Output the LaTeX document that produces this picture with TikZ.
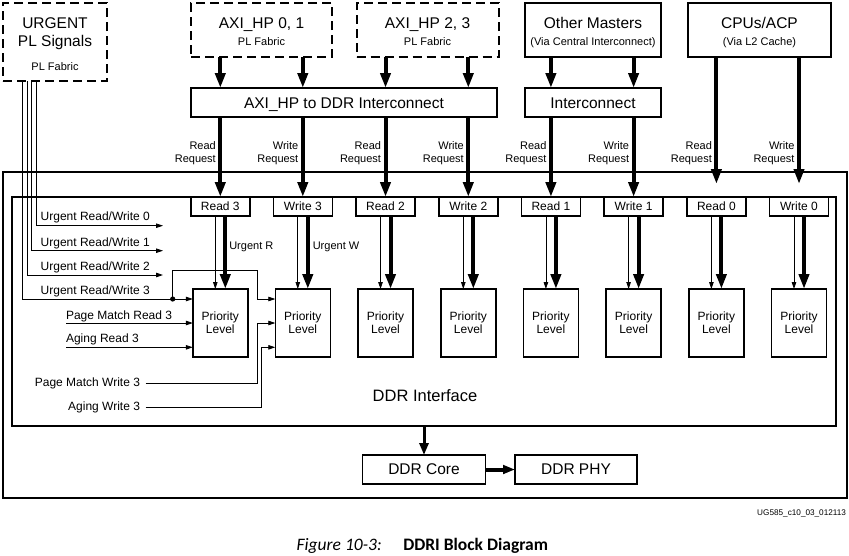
\documentclass[tikz,border=0pt]{standalone}
\usepackage{fontspec}
\setmainfont{Liberation Sans}
\newfontfamily\capfont{Carlito}
\usetikzlibrary{arrows.meta,calc}
\begin{document}
\begin{tikzpicture}[x=1pt,y=-1pt,
  fbox/.style={draw, line width=1.6pt, inner sep=0pt, outer sep=0pt, anchor=north west},
  dbox/.style={fbox, dash pattern=on 9pt off 5pt, line width=2pt},
  txt/.style={inner sep=0pt, outer sep=0pt, anchor=base},
  fbig/.style={font=\fontsize{15.5}{18}\selectfont},
  fsub/.style={font=\fontsize{11}{13}\selectfont},
  fmid/.style={font=\fontsize{12}{13.3}\selectfont},
  thk/.style={line width=4pt, -{Triangle[length=15pt,width=10pt]}},
  thn/.style={line width=0.8pt, -{Triangle[length=7pt,width=4.5pt]}},
]
\useasboundingbox (0,0) rectangle (849,555);

% frames
\node[fbox, line width=2pt, minimum width=843.5pt, minimum height=326pt] (outerbox) at (3,172) {};
\node[fbox, minimum width=824pt, minimum height=229pt] (ddri) at (12,197) {};

% sources
\node[dbox, minimum width=104pt, minimum height=78pt] (urg) at (3,3) {};
\node[dbox, minimum width=141pt, minimum height=54pt] (axia) at (191,3) {};
\node[dbox, minimum width=142pt, minimum height=54pt] (axib) at (356.5,3) {};
\node[fbox, minimum width=136pt, minimum height=54pt] (oth) at (525,3) {};
\node[fbox, minimum width=143pt, minimum height=54pt] (cpu) at (688,3) {};

\node[txt, fbig] (urgt1) at (55,28.3) {URGENT};
\node[txt, fbig] (urgt2) at (55,46.7) {PL Signals};
\node[txt, fsub] (urgt3) at (55,70.7) {PL Fabric};
\node[txt, fbig] (axiat1) at ($(axia.north)+(0,25.3)$) {AXI\_HP 0, 1};
\node[txt, fsub] (axiat2) at ($(axia.north)+(0,42.7)$) {PL Fabric};
\node[txt, fbig] (axibt1) at ($(axib.north)+(0,25.3)$) {AXI\_HP 2, 3};
\node[txt, fsub] (axibt2) at ($(axib.north)+(0,42.7)$) {PL Fabric};
\node[txt, fbig] (otht1) at ($(oth.north)+(0,25.3)$) {Other Masters};
\node[txt, fsub] (otht2) at ($(oth.north)+(0,42.7)$) {(Via Central Interconnect)};
\node[txt, fbig] (cput1) at ($(cpu.north)+(0,25.3)$) {CPUs/ACP};
\node[txt, fsub] (cput2) at ($(cpu.north)+(0,42.7)$) {(Via L2 Cache)};

% interconnects
\node[fbox, minimum width=306pt, minimum height=29pt] (ica) at (191,88) {};
\node[fbox, minimum width=136pt, minimum height=29pt] (icb) at (525,88) {};
\node[txt, fbig] (icat) at ($(ica.north)+(0,20.3)$) {AXI\_HP to DDR Interconnect};
\node[txt, fbig] (icbt) at ($(icb.north)+(0,20.3)$) {Interconnect};

% read / write ports and priority blocks
\foreach \i/\c/\t/\k in {0/220.3/Read 3/Read, 1/302.8/Write 3/Write, 2/385.5/Read 2/Read, 3/468.3/Write 2/Write,
                         4/550.9/Read 1/Read, 5/633.6/Write 1/Write, 6/716.4/Read 0/Read, 7/799/Write 0/Write} {
  \node[fbox, anchor=north, line width=1.4pt, minimum width=59pt, minimum height=19pt, fmid] (q\i) at (\c,197) {\t};
  \node[fbox, anchor=north, minimum width=55pt, minimum height=68pt, align=center, fmid] (p\i) at (\c,289) {Priority\\Level};
  \node[txt, anchor=base east, fsub] (ra\i) at (\c-4.5,149.3) {\k};
  \node[txt, anchor=base east, fsub] (rb\i) at (\c-4.5,162.5) {Request};
  \draw[thn] ([xshift=-5pt]q\i.south) -- ([xshift=-5pt]p\i.north);
  \draw[thk] ([xshift=5pt]q\i.south) -- ([xshift=5pt]p\i.north);
}

% request arrows
\foreach \i in {0,1} \draw[thk] (axia.south -| q\i) -- (ica.north -| q\i);
\foreach \i in {2,3} \draw[thk] (axib.south -| q\i) -- (ica.north -| q\i);
\foreach \i in {0,1,2,3} \draw[thk] (ica.south -| q\i) -- (q\i.north);
\foreach \i in {4,5} {
  \draw[thk] (oth.south -| q\i) -- (icb.north -| q\i);
  \draw[thk] (icb.south -| q\i) -- (q\i.north);
}
\foreach \i in {6,7} {
  \coordinate (ce\i) at ([yshift=13pt]q\i.north);
  \draw[thk] (cpu.south -| q\i) -- (ce\i);
}

\node[txt, anchor=base west, fsub] (urr) at ($(q0.south)+(9,33)$) {Urgent R};
\node[txt, anchor=base west, fsub] (urw) at ($(q1.south)+(10,33)$) {Urgent W};

% urgent signals
\coordinate (e0) at (163,225.7);
\coordinate (e1) at (163,250.7);
\coordinate (e2) at (163,275);
\draw[thn] ([xshift=-19pt]urg.south) |- (e0);
\draw[thn] ([xshift=-23.3pt]urg.south) |- (e1);
\draw[thn] ([xshift=-28pt]urg.south) |- (e2);
\draw[thn] ([xshift=-32.3pt]urg.south) |- ([yshift=-10pt]p0.north west);
\coordinate (dt) at (172.7,299);
\coordinate (dk) at (257.3,270);
\fill (dt) circle (2.6pt);
\draw[thn] (dt) |- (dk) |- ([yshift=-10pt]p1.north west);

\node[txt, anchor=base west, fmid] (u0) at (40.7,220.7) {Urgent Read/Write 0};
\node[txt, anchor=base west, fmid] (u1) at (40.7,246) {Urgent Read/Write 1};
\node[txt, anchor=base west, fmid] (u2) at (40.7,270) {Urgent Read/Write 2};
\node[txt, anchor=base west, fmid] (u3) at (40.7,294) {Urgent Read/Write 3};

% page match / aging
\node[txt, anchor=base west, fmid] (pmr) at (66,319.3) {Page Match Read 3};
\node[txt, anchor=base west, fmid] (agr) at (66,342.3) {Aging Read 3};
\coordinate (a3) at ([yshift=-58.3pt]p0.north west);
\draw[thn] (pmr.west |- p0.west) -- (p0.west);
\draw[thn] (agr.west |- a3) -- (a3);

\node[txt, anchor=base east, fmid] (pmw) at (140,386) {Page Match Write 3};
\node[txt, anchor=base east, fmid] (agw) at (140,410.3) {Aging Write 3};
\coordinate (b3) at ([yshift=-58.3pt]p1.north west);
\coordinate (kx) at (257.3,0);
\coordinate (kx2) at (261.7,0);
\draw[thn] ([xshift=5.5pt]pmw.east) -| (kx |- p1.west) -- (p1.west);
\draw[thn] ([xshift=5.5pt]agw.east) -| (kx2 |- b3) -- (b3);

\node[txt, font=\fontsize{16.5}{19}\selectfont] (ddrit) at (425,401) {DDR Interface};

% core / phy
\node[fbox, minimum width=123pt, minimum height=29pt, fbig] (ddrcore) at (362.5,455) {DDR Core};
\node[fbox, minimum width=122pt, minimum height=29pt, fbig] (ddrphy) at (515,455) {DDR PHY};
\draw[line width=3pt, -{Triangle[length=12pt,width=9pt]}] (ddri.south -| ddrcore) -- (ddrcore.north);
\draw[line width=4pt, -{Triangle[length=12pt,width=8.5pt]}] (ddrcore.east) -- (ddrphy.west);

\node[txt, anchor=base east, font=\fontsize{8.2}{10}\selectfont] (ug) at (846,515) {UG585\_c10\_03\_012113};
\node[txt, anchor=base west, font={\capfont\itshape\fontsize{17.5}{20}\selectfont}] (cap1) at (296.7,550) {Figure 10-3:};
\node[txt, anchor=base west, font={\capfont\bfseries\fontsize{17.5}{20}\selectfont}] (cap2) at (403.3,550) {DDRI Block Diagram};
\end{tikzpicture}
\end{document}
